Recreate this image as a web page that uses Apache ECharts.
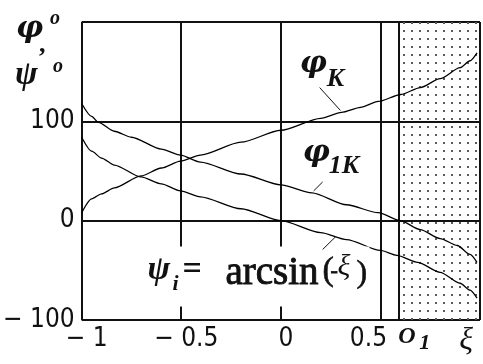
<!DOCTYPE html>
<html>
<head>
<meta charset="utf-8">
<script src="https://cdn.jsdelivr.net/npm/echarts@6/dist/echarts.min.js"></script>
<style>
  html, body { margin: 0; padding: 0; background: #fff; }
  #chart { width: 483px; height: 364px; }
</style>
</head>
<body>
<div id="chart"></div>
<script>
// ---- data: angles in degrees against ξ ----
const xiPhiK  = [-1, -0.95, -0.9, -0.836, -0.702, -0.6, -0.504, -0.404, -0.2, 0, 0.2, 0.305, 0.4, 0.489, 0.603, 0.7, 0.8, 0.9, 0.95, 0.985];
const phiK    = [8, 22, 27, 33, 45, 53, 60, 66, 79, 91, 103, 109, 114, 120, 127, 134, 143, 154, 161, 169];

const xiPhi1K = [-1, -0.95, -0.916, -0.836, -0.75, -0.6, -0.504, -0.404, -0.2, 0, 0.156, 0.33, 0.489, 0.6, 0.7, 0.8, 0.886, 0.95, 0.985];
const phi1K   = [118, 105, 99, 90, 84, 72, 66, 59, 47, 36, 28, 16, 8, 0, -9, -18, -25, -34, -42];

const xiPsi   = [-1, -0.95, -0.9, -0.836, -0.702, -0.6, -0.504, -0.404, -0.2, 0, 0.2, 0.33, 0.5, 0.583, 0.687, 0.8, 0.9, 0.95, 0.985];
const psiI    = [84, 70, 63, 56, 44, 37, 30, 24, 12, 0, -12, -19, -30, -35, -42, -52, -63, -70, -78];

// boundary O1 where φ1K reaches zero; shaded zone runs from it to ξ = 1
const O1 = 0.595;

// ---- axes ----
const xTickVals = [-1, -0.5, 0, 0.5];
const xTickText = ['− 1', '− 0.5', '0', '0.5'];
const yTickVals = [-100, 0, 100];
const yTickText = ['− 100', '0', '100'];

// ---- annotation anchors (ξ, degrees) ----
const phiKAnchor   = [0.11, 176];
const phi1KAnchor  = [0.11, 85];
const psiAnchor    = [-0.67, -26];
const phiKLeader   = [[0.195, 134], [0.299, 111]];
const phi1KLeader  = [[0.210, 39], [0.165, 30]];
const psiLeader    = [[0.210, -29], [0.276, -16]];

const NARROW = '"Liberation Sans Narrow", "Arial Narrow", "DejaVu Sans Condensed", sans-serif';
const SERIF = '"Liberation Serif", "Times New Roman", "DejaVu Serif", serif';
const GREEK = '"DejaVu Serif", "Liberation Serif", serif';
const INK = '#111';

// dotted fill for the shaded zone
const tile = document.createElement('canvas');
tile.width = 8; tile.height = 8;
const tctx = tile.getContext('2d');
tctx.fillStyle = '#5a5a5a';
tctx.fillRect(3, 6, 2, 2);

function curve(name, xs, ys) {
  return {
    name: name,
    type: 'line',
    data: xs.map((x, i) => [x, ys[i]]),
    showSymbol: false,
    smooth: 0.25,
    smoothMonotone: 'x',
    silent: true,
    z: 5,
    lineStyle: { color: '#000', width: 1.3 }
  };
}

const s1 = curve('phiK', xiPhiK, phiK);
s1.markArea = {
  silent: true,
  itemStyle: { color: { image: tile, repeat: 'repeat' } },
  data: [[{ xAxis: O1 }, { xAxis: 1 }]]
};
s1.markLine = {
  silent: true,
  symbol: 'none',
  label: { show: false },
  lineStyle: { color: INK, width: 2, type: 'solid' },
  data: [{ xAxis: O1 }]
};

const xRich = {
  s0: { fontFamily: NARROW, fontSize: 26, color: INK, padding: [0, 0, 0, 10] },
  s1: { fontFamily: NARROW, fontSize: 26, color: INK, padding: [0, 0, 0, 10] },
  s2: { fontFamily: NARROW, fontSize: 26, color: INK, padding: [0, 0, 0, 10] },
  s3: { fontFamily: NARROW, fontSize: 26, color: INK, padding: [0, 24, 0, 0] }
};

const chart = echarts.init(document.getElementById('chart'));
chart.setOption({
  animation: false,
  backgroundColor: '#fff',
  grid: { left: 80, right: -2, top: 22, bottom: 44, containLabel: false },
  xAxis: {
    type: 'value', min: -1, max: 1, interval: 0.5,
    axisLine: { show: false }, axisTick: { show: false },
    splitLine: { show: true, lineStyle: { color: INK, width: 2 } },
    axisLabel: {
      margin: 6,
      fontFamily: NARROW, fontSize: 26, color: INK,
      formatter: function (v) {
        const i = xTickVals.indexOf(v);
        return i < 0 ? '' : '{s' + i + '|' + xTickText[i] + '}';
      },
      rich: xRich
    }
  },
  yAxis: {
    type: 'value', min: -100, max: 200, interval: 100,
    axisLine: { show: false }, axisTick: { show: false },
    splitLine: { show: true, lineStyle: { color: INK, width: 2 } },
    axisLabel: {
      margin: 7,
      fontFamily: NARROW, fontSize: 26, color: INK,
      formatter: function (v) {
        const i = yTickVals.indexOf(v);
        return i < 0 ? '' : yTickText[i];
      }
    }
  },
  series: [s1, curve('phi1K', xiPhi1K, phi1K), curve('psi', xiPsi, psiI)]
});

// ---- annotations placed through the axes ----
const px = p => chart.convertToPixel({ gridIndex: 0 }, p);

function txt(x, y, text, font, align, heavy) {
  const style = { text: text, font: font, fill: INK, textAlign: align || 'left', textVerticalAlign: 'middle' };
  if (heavy) { style.stroke = INK; style.lineWidth = heavy; }
  return { type: 'text', x: x, y: y, z: 20, silent: true, style: style };
}
function leader(seg) {
  const a = px(seg[0]), b = px(seg[1]);
  return {
    type: 'line', z: 20, silent: true,
    shape: { x1: a[0], y1: a[1], x2: b[0], y2: b[1] },
    style: { stroke: INK, lineWidth: 1 }
  };
}

const aK = px(phiKAnchor);
const a1K = px(phi1KAnchor);
const aPsi = px(psiAnchor);
const aO = px([O1, -100]);

const graphics = [
  // φK
  txt(aK[0] - 3, aK[1] + 18, 'φ', 'italic bold 30px ' + GREEK),
  txt(aK[0] + 24, aK[1] + 33, 'K', 'italic bold 26px ' + SERIF),
  leader(phiKLeader),
  // φ1K
  txt(a1K[0] + 0, a1K[1] + 17, 'φ', 'italic bold 30px ' + GREEK),
  txt(a1K[0] + 26, a1K[1] + 30, '1K', 'italic bold 26px ' + SERIF),
  leader(phi1KLeader),
  // ψi = arcsin(-ξ), on a white plate
  {
    type: 'rect', z: 18, silent: true,
    shape: { x: aPsi[0] - 2, y: aPsi[1], width: 224, height: 60 },
    style: { fill: '#fff' }
  },
  txt(aPsi[0] + 0, aPsi[1] + 24, 'ψ', 'italic bold 34px ' + SERIF),
  txt(aPsi[0] + 25, aPsi[1] + 38, 'i', 'italic bold 22px ' + SERIF),
  txt(aPsi[0] + 35, aPsi[1] + 24, '=', 'bold 34px ' + SERIF),
  txt(aPsi[0] + 78, aPsi[1] + 27, 'arcsin', '39px ' + SERIF, 'left', 0.9),
  txt(aPsi[0] + 175, aPsi[1] + 25, '(', '34px ' + SERIF, 'left', 0.6),
  txt(aPsi[0] + 183, aPsi[1] + 25, '-', '22px ' + SERIF, 'left', 0.8),
  txt(aPsi[0] + 190, aPsi[1] + 21, 'ξ', 'italic 30px ' + SERIF),
  txt(aPsi[0] + 209, aPsi[1] + 27, ')', '32px ' + SERIF, 'left', 0.6),
  leader(psiLeader),
  // O1 and ξ under the axis
  txt(aO[0] - 1, aO[1] + 17, 'O', 'italic bold 24px ' + SERIF),
  txt(aO[0] + 20, aO[1] + 23, '1', 'italic bold 22px ' + SERIF),
  txt(aO[0] + 60, aO[1] + 21, 'ξ', 'italic 32px ' + SERIF),
  // axis title φ°, ψ°
  txt(16, 29, 'φ', 'italic bold 30px ' + GREEK),
  txt(50, 19, 'o', 'italic bold 20px ' + SERIF),
  txt(39, 45, ',', 'bold 26px ' + SERIF),
  txt(15, 75, 'ψ', 'italic bold 34px ' + SERIF),
  txt(53, 67, 'o', 'italic bold 20px ' + SERIF)
];
chart.setOption({ graphic: graphics });
</script>
</body>
</html>
